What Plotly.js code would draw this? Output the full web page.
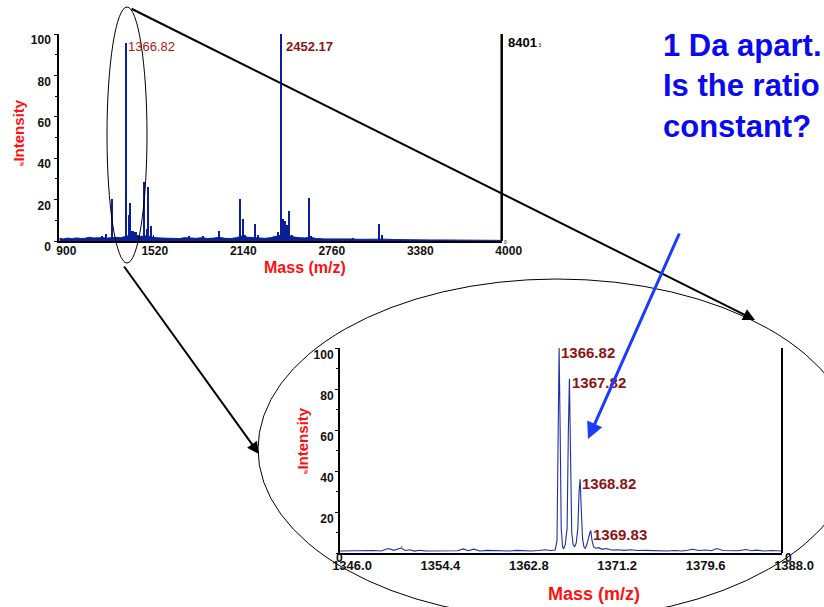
<!DOCTYPE html>
<html>
<head>
<meta charset="utf-8">
<script src="https://cdn.plot.ly/plotly-3.0.1.min.js"></script>
<style>html,body{margin:0;padding:0;background:#fff;}#chart{width:824px;height:607px;}</style>
</head>
<body>
<div id="chart"></div>
<script>
// ---------- DATA ----------
// Full-range MALDI spectrum: centroided peaks (m/z, % intensity)
const overviewPeakMass = [1201, 1227, 1269, 1366.82, 1388, 1397, 1405, 1415, 1425, 1435, 1495, 1514, 1523, 1544, 1560,
  1808, 1906, 2022, 2167, 2186, 2200, 2274, 2291, 2435, 2452.17, 2470, 2482, 2494, 2512, 2530, 2648, 2665, 2958, 3140, 3163];
const overviewPeakInt = [2.5, 3.3, 20.3, 95.5, 12.6, 18.4, 5, 5, 4.5, 4.5, 28.7, 6, 26.2, 7.2, 3,
  2.5, 2.5, 5, 20.1, 10.6, 3, 8.2, 3, 4.5, 100, 10.5, 9.5, 7.5, 14.5, 3, 20.6, 2.5, 1.6, 8.2, 2.8];
// Baseline noise of the full-range spectrum
const noiseMass = [900, 930, 960, 990, 1020, 1050, 1080, 1110, 1140, 1170, 1200, 1240, 1290, 1330, 1350, 1380, 1410, 1440,
  1470, 1500, 1540, 1580, 1620, 1660, 1700, 1740, 1780, 1820, 1860, 1900, 1940, 1980, 2020, 2060, 2100, 2140, 2180, 2220,
  2260, 2300, 2340, 2380, 2420, 2460, 2500, 2540, 2580, 2620, 2660, 2700, 2760, 2820, 2880, 2940, 3000, 3060, 3120, 3180,
  3240, 3300, 3400, 3500, 3600, 3700, 3800, 3900, 4000];
const noiseInt = [1.3, 1.0, 1.4, 1.1, 1.5, 1.2, 1.3, 1.8, 1.5, 1.7, 1.6, 1.4, 1.8, 1.6, 2.0, 2.4, 3.0, 2.8,
  2.2, 2.5, 2.0, 1.6, 1.4, 1.3, 1.5, 1.2, 1.6, 1.4, 1.3, 1.6, 1.2, 1.4, 1.8, 1.3, 1.2, 1.6, 2.4, 1.8,
  1.6, 1.5, 1.3, 1.6, 2.2, 3.0, 2.8, 2.0, 1.6, 1.5, 1.8, 1.2, 1.0, 1.1, 0.9, 1.0, 0.8, 0.9, 1.0, 0.9,
  0.7, 0.6, 0.6, 0.5, 0.5, 0.4, 0.4, 0.4, 0.3];
// Zoomed profile spectrum 1346–1388 (m/z, % intensity)
const zoomMass = [1346.0, 1346.8, 1347.6, 1348.4, 1349.2, 1349.9, 1350.6, 1351.1, 1351.8, 1352.2, 1352.6, 1353.1, 1353.6,
  1354.2, 1355.0, 1355.8, 1356.6, 1357.2, 1357.7, 1358.2, 1358.7, 1359.3, 1360.0, 1360.7, 1361.4, 1362.1, 1362.8, 1363.5,
  1364.2, 1364.9, 1365.5, 1366.0, 1366.45, 1366.62, 1366.72, 1366.82, 1366.92, 1367.02, 1367.15, 1367.25, 1367.4, 1367.58,
  1367.7, 1367.8, 1367.9, 1368.02, 1368.15, 1368.3, 1368.45, 1368.6, 1368.72, 1368.82, 1368.92, 1369.05, 1369.18, 1369.3,
  1369.45, 1369.62, 1369.75, 1369.83, 1369.95, 1370.1, 1370.3, 1370.6, 1370.9, 1371.3, 1371.8, 1372.4, 1373.0, 1373.6,
  1374.3, 1375.0, 1375.7, 1376.4, 1377.1, 1377.8, 1378.5, 1379.0, 1379.5, 1380.1, 1380.8, 1381.3, 1381.8, 1382.4, 1383.1,
  1383.8, 1384.6, 1385.1, 1385.6, 1386.3, 1387.0, 1388.0];
const zoomInt = [1.0, 1.1, 0.9, 1.0, 1.2, 1.0, 2.2, 1.3, 2.4, 1.2, 1.6, 0.9, 1.3,
  1.0, 1.1, 0.9, 1.0, 1.1, 2.0, 1.1, 1.9, 1.0, 1.3, 1.1, 1.2, 1.0, 1.3, 1.1,
  1.0, 1.2, 1.6, 1.2, 1.5, 6, 55, 100, 60, 12, 3, 2, 4, 12,
  60, 85, 50, 10, 4, 3, 5, 12, 30, 36, 22, 7, 3, 2.2,
  4, 8, 10, 11, 6, 3, 2.3, 2.6, 1.8, 2.2, 1.5, 1.6, 1.3, 1.6,
  1.2, 1.3, 1.1, 1.2, 1.0, 1.2, 1.0, 1.3, 1.8, 1.2, 1.5, 1.1, 2.2, 1.2, 1.3,
  1.1, 1.7, 1.1, 1.4, 1.0, 1.2, 1.0];
// Small red marker in the zoomed trace
const markerMass = [1351.86, 1351.86];
const markerInt = [2.0, 3.5];
// Labelled peaks
const overviewLabelMass = [1366.82, 2452.17];
const overviewLabelText = ['1366.82', '2452.17'];
const isoMass = [1366.82, 1367.82, 1368.82, 1369.83];
const isoInt = [100, 85, 36, 11];
const isoText = ['1366.82', '1367.82', '1368.82', '1369.83'];
// Tick labels
const overviewTicks = [900, 1520, 2140, 2760, 3380, 4000];
const zoomTicks = [1346.0, 1354.4, 1362.8, 1371.2, 1379.6, 1388.0];
const intensityTicks = [0, 20, 40, 60, 80, 100];
const zoomIntensityTicks = [20, 40, 60, 80, 100];

// ---------- LAYOUT HELPERS ----------
const W = 824, H = 607;
const px = x => x / W;
const py = y => 1 - y / H;
const FONT = 'Liberation Sans, Arial, sans-serif';
const navy = '#0b1f96';
const dred = '#8b1414';

const traces = [
  {type: 'scatter', x: noiseMass, y: noiseInt, mode: 'lines', fill: 'tozeroy',
   line: {color: navy, width: 1}, fillcolor: navy, xaxis: 'x', yaxis: 'y', hoverinfo: 'skip'},
  {type: 'bar', x: overviewPeakMass, y: overviewPeakInt, width: 13, marker: {color: navy, line: {width: 0}},
   xaxis: 'x', yaxis: 'y'},
  {type: 'scatter', x: zoomMass, y: zoomInt, mode: 'lines', line: {color: '#1f2fa6', width: 1.1},
   xaxis: 'x2', yaxis: 'y2'},
  {type: 'scatter', x: markerMass, y: markerInt, mode: 'lines', line: {color: '#e05050', width: 1},
   xaxis: 'x2', yaxis: 'y2'}
];

const tickFont = {family: FONT, size: 12, color: '#111', weight: 'bold'};
const axisCommon = {showgrid: false, zeroline: false, showline: true, linecolor: '#000', fixedrange: true};

function txt(x, y, text, font, extra) {
  return Object.assign({xref: 'paper', yref: 'paper', x: px(x), y: py(y), text: text, showarrow: false,
    xanchor: 'center', yanchor: 'middle', font: font}, extra || {});
}

const annotations = [];
// peak labels in overview
overviewLabelMass.forEach((m, i) => {
  annotations.push({xref: 'x', yref: 'y', x: m, y: 94, text: overviewLabelText[i], showarrow: false,
    xanchor: 'left', yanchor: 'middle', xshift: i === 0 ? 0 : 3,
    font: {family: FONT, size: 13, color: i === 0 ? '#a52222' : dred, weight: i === 0 ? 'normal' : 'bold'}});
});
// isotope labels in zoom
isoMass.forEach((m, i) => {
  annotations.push({xref: 'x2', yref: 'y2', x: m, y: isoInt[i], text: isoText[i], showarrow: false,
    xanchor: 'left', yanchor: 'middle', xshift: 0, yshift: -4,
    font: {family: FONT, size: 15, color: dred, weight: 'bold'}});
});
const red = '#ff1010';
annotations.push(
  txt(305, 267, 'Mass (m/z)', {family: FONT, size: 16, color: red, weight: 'bold'}),
  txt(18, 133, '<span style="font-size:5px">%</span>Intensity', {family: FONT, size: 15, color: red, weight: 'bold'}, {textangle: -90}),
  txt(594, 594, 'Mass (m/z)', {family: FONT, size: 18, color: red, weight: 'bold'}),
  txt(302, 441, '<span style="font-size:5px">%</span>Intensity', {family: FONT, size: 15, color: red, weight: 'bold'}, {textangle: -90}),
  txt(506, 42, '8401<span style="font-size:5px;font-weight:normal"> 3</span>', {family: FONT, size: 13, color: '#000', weight: 'bold'}, {xanchor: 'left'}),
  txt(506, 242, '0', {family: FONT, size: 5, color: '#000'}),
  txt(339, 558, '0', {family: FONT, size: 12, color: '#111', weight: 'bold'}),
  txt(788, 558, '0', {family: FONT, size: 12, color: '#111', weight: 'bold'}),
  txt(661, 86, '1 Da apart.<br>Is the ratio<br>constant?', {family: FONT, size: 31, color: '#0a0af0', weight: 'bold'},
      {xanchor: 'left', align: 'left'}),
  // arrows
  {xref: 'paper', yref: 'paper', x: px(755), y: py(320), ax: 130 - 755, ay: 8 - 320, text: '', showarrow: true,
   arrowhead: 2, arrowsize: 1.2, arrowwidth: 2, arrowcolor: '#000', standoff: 0, startstandoff: 0},
  {xref: 'paper', yref: 'paper', x: px(259), y: py(454), ax: 123 - 259, ay: 265 - 454, text: '', showarrow: true,
   arrowhead: 2, arrowsize: 1.2, arrowwidth: 2, arrowcolor: '#000', standoff: 0, startstandoff: 0},
  {xref: 'paper', yref: 'paper', x: px(588), y: py(439), ax: 680 - 588, ay: 232 - 439, text: '', showarrow: true,
   arrowhead: 2, arrowsize: 1.1, arrowwidth: 3, arrowcolor: '#1a3cff', standoff: 0, startstandoff: 0}
);

const shapes = [
  {type: 'line', xref: 'paper', yref: 'paper', x0: px(501.7), x1: px(501.7), y0: py(241), y1: py(34),
   line: {color: '#000', width: 2.5}},
  {type: 'line', xref: 'paper', yref: 'paper', x0: px(782), x1: px(782), y0: py(553), y1: py(348),
   line: {color: '#000', width: 2}},
  {type: 'circle', xref: 'paper', yref: 'paper', x0: px(107), x1: px(147), y0: py(263), y1: py(7),
   line: {color: '#000', width: 1}},
  {type: 'circle', xref: 'paper', yref: 'paper', x0: px(258), x1: px(856), y0: py(619), y1: py(279),
   line: {color: '#000', width: 1}}
];

const layout = {
  width: W, height: H,
  margin: {l: 0, r: 0, t: 0, b: 0},
  paper_bgcolor: '#fff', plot_bgcolor: 'rgba(0,0,0,0)',
  showlegend: false, bargap: 0,
  xaxis: Object.assign({}, axisCommon, {
    domain: [px(59.3), px(501.7)], range: [900, 4000], tickvals: overviewTicks,
    linewidth: 2, ticks: '', tickfont: tickFont, ticklabelshift: 7, ticklabelstandoff: -2, anchor: 'y'}),
  yaxis: Object.assign({}, axisCommon, {
    domain: [py(241), py(34)], range: [0, 100], tickvals: intensityTicks,
    linewidth: 2, ticks: 'outside', ticklen: 3, tickcolor: '#000', tickfont: tickFont,
    ticklabelshift: 6, ticklabelstandoff: 1,
    minor: {dtick: 10, ticks: 'outside', ticklen: 2, tickcolor: '#000'}, anchor: 'x'}),
  xaxis2: Object.assign({}, axisCommon, {
    domain: [px(340), px(782)], range: [1346, 1388], tickvals: zoomTicks, tickformat: '.1f',
    linewidth: 2, ticks: '', tickfont: Object.assign({}, tickFont, {size: 13}), ticklabelshift: 12,
    ticklabelstandoff: -1, anchor: 'y2'}),
  yaxis2: Object.assign({}, axisCommon, {
    domain: [py(553), py(348)], range: [0, 100], tickvals: zoomIntensityTicks,
    linewidth: 2, ticks: 'outside', ticklen: 3, tickcolor: '#000', tickfont: tickFont,
    ticklabelshift: 7, ticklabelstandoff: -1,
    minor: {dtick: 10, ticks: 'outside', ticklen: 2, tickcolor: '#000'}, anchor: 'x2'}),
  annotations: annotations,
  shapes: shapes
};

Plotly.newPlot('chart', traces, layout, {staticPlot: true, displayModeBar: false});
</script>
</body>
</html>
